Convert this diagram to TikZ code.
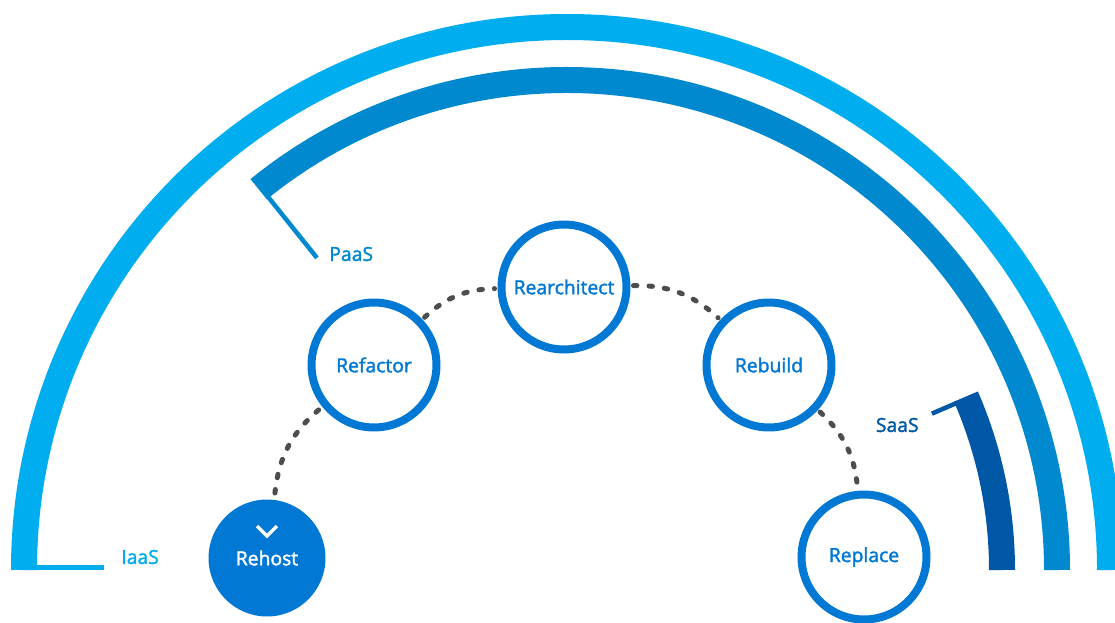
\documentclass[tikz,border=0pt]{standalone}
\usepackage{fontspec}
\setmainfont{Open Sans}
\newfontfamily\semifont{Open Sans}[BoldFont={Open Sans}, BoldFeatures={FakeBold=1.8}]
\usetikzlibrary{calc}
\definecolor{iaasblue}{HTML}{00AEEF}
\definecolor{paasblue}{HTML}{0089CF}
\definecolor{saasblue}{HTML}{0057A6}
\definecolor{stageblue}{HTML}{0078D4}
\definecolor{dotgray}{HTML}{4D4D4D}
\begin{document}
\begin{tikzpicture}[x=0.02cm, y=0.02cm]
	\tikzstyle{band} = [line width=0.52cm]
	\tikzstyle{tick} = [line width=0.09cm]
	\tikzstyle{tier} = [font=\fontsize{11}{13}\semifont\bfseries, inner sep=0pt]
	\tikzstyle{stage} = [circle, draw=stageblue, line width=0.16cm, fill=white, minimum size=2.5cm, inner sep=0pt, text=stageblue, font=\fontsize{11}{13}\semifont\bfseries]
	\tikzstyle{link} = [dotgray, line width=0.1cm, line cap=round, dash pattern=on 0.07cm off 0.24cm, shorten <=0.06cm, shorten >=0.06cm]

		\useasboundingbox (0,0) rectangle (1115,-622);
		\coordinate (C) at (567,-570);

		\draw[band, iaasblue] ($(C)+(180:543)$) arc[start angle=180, end angle=0, radius=543];
		\draw[band, paasblue] ($(C)+(129:490)$) arc[start angle=129, end angle=0, radius=490];
		\draw[band, saasblue] ($(C)+(23.5:435)$) arc[start angle=23.5, end angle=0, radius=435];

		\coordinate (iaas start) at (37,-567.5);
		\coordinate (iaas end) at (104,-567.5);
		\coordinate (paas start) at ($(C)+(128.7:479)$);
		\coordinate (paas end) at ($(C)+(128.7:400)$);
		\coordinate (saas start) at ($(C)+(23.2:424)$);
		\coordinate (saas end) at ($(C)+(23.2:397)$);
		\draw[tick, iaasblue] (iaas start) -- (iaas end);
		\draw[tick, paasblue] (paas start) -- (paas end);
		\draw[tick, saasblue] (saas start) -- (saas end);

		\node[tier, text=iaasblue, anchor=west] (iaas) at (121,-557) {IaaS};
		\node[tier, text=paasblue, anchor=west] (paas) at (329,-254) {PaaS};
		\node[tier, text=saasblue, anchor=east] (saas) at (919,-425) {SaaS};

		\node[stage] (refactor) at (374,-365) {Refactor};
		\node[stage] (rearchitect) at (564,-287) {Rearchitect};
		\node[stage] (rebuild) at (769,-365) {Rebuild};
		\node[stage] (replace) at (864,-557) {Replace};
		\node[stage, fill=stageblue, text=white, draw=none, minimum size=2.34cm] (rehost) at (267,-558) {Rehost};

		\draw[white, line width=0.07cm] (rehost.center) ++(-10,32) -- ++(10,-10) -- ++(10,10);

		\draw[link] (rehost) to[bend left=22] (refactor);
		\draw[link] (refactor) to[bend left=21] (rearchitect);
		\draw[link] (rearchitect) to[bend left=22] (rebuild);
		\draw[link] (rebuild) to[bend left=21] (replace);

    \end{tikzpicture}
\end{document}
